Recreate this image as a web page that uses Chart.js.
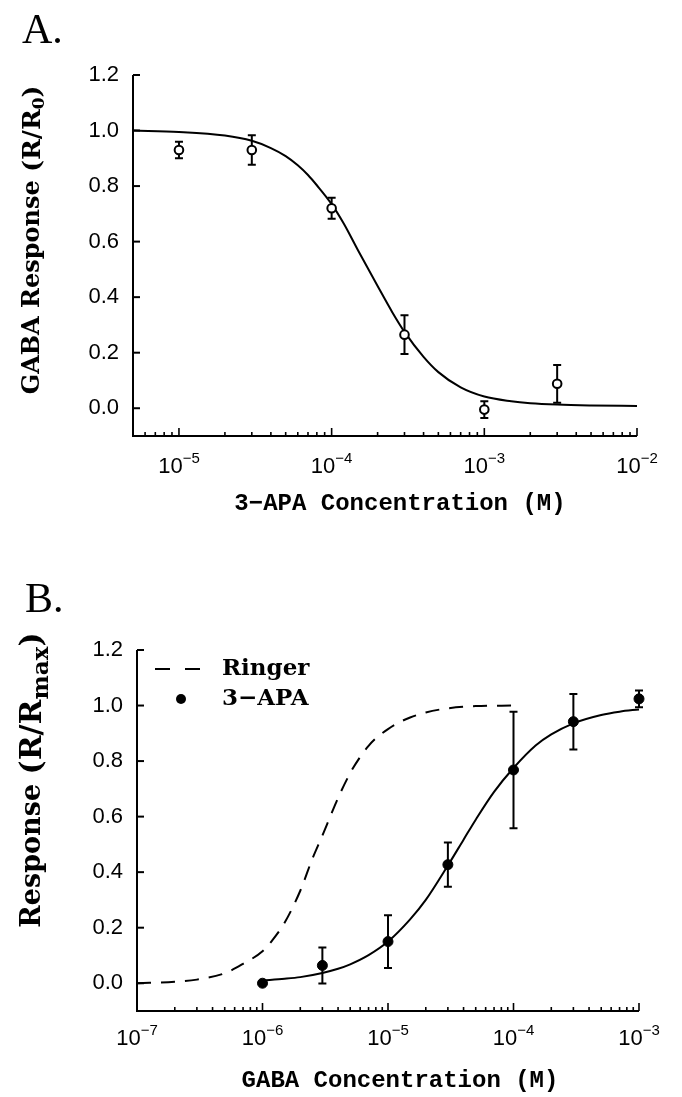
<!DOCTYPE html>
<html>
<head>
<meta charset="utf-8">
<script src="https://cdn.jsdelivr.net/npm/chart.js@4"></script>
<style>
  body { margin: 0; background: #fff; }
  #wrap { position: relative; width: 682px; height: 1097px; }
  canvas { position: absolute; left: 0; }
</style>
</head>
<body>
<div id="wrap">
  <canvas id="panel-a" width="682" height="540" style="top:0"></canvas>
  <canvas id="panel-b" width="682" height="557" style="top:540px"></canvas>
</div>
<script>
// Panel A - 3-APA inhibition of the GABA response
const aConc = [1e-5, 3e-5, 1e-4, 3e-4, 1e-3, 3e-3];
const aResp = [0.93, 0.93, 0.72, 0.265, -0.005, 0.088];
const aErr = [0.03, 0.053, 0.038, 0.07, 0.03, 0.068];
const aFitConc = [5e-6, 1e-5, 2e-5, 3e-5, 4e-5, 5e-5, 6e-5, 7e-5, 8e-5, 1e-4, 1.2e-4, 1.5e-4, 2e-4, 2.5e-4, 3e-4, 4e-4, 5e-4, 7e-4, 1e-3, 1.5e-3, 2e-3, 3e-3, 5e-3, 1e-2];
const aFitResp = [1.0, 0.995, 0.982, 0.963, 0.937, 0.908, 0.875, 0.84, 0.803, 0.735, 0.665, 0.565, 0.44, 0.345, 0.275, 0.185, 0.13, 0.075, 0.042, 0.025, 0.018, 0.013, 0.01, 0.008];
const aTickExps = [-5, -4, -3, -2];

// Panel B - GABA dose response, Ringer vs 3-APA
const bConc = [1e-6, 3e-6, 1e-5, 3e-5, 1e-4, 3e-4, 1e-3];
const bResp = [0.0, 0.064, 0.15, 0.427, 0.768, 0.942, 1.024];
const bErr = [0, 0.065, 0.095, 0.08, 0.21, 0.10, 0.03];
const ringerConc = [1e-7, 2e-7, 3e-7, 5e-7, 7e-7, 1e-6, 1.2e-6, 1.5e-6, 2e-6, 2.5e-6, 3e-6, 3.5e-6, 4e-6, 5e-6, 6e-6, 7e-6, 8e-6, 1e-5, 1.2e-5, 1.5e-5, 2e-5, 3e-5, 5e-5, 1e-4];
const ringerResp = [0.0, 0.005, 0.013, 0.036, 0.07, 0.115, 0.155, 0.218, 0.333, 0.449, 0.532, 0.605, 0.667, 0.757, 0.815, 0.855, 0.882, 0.915, 0.937, 0.957, 0.975, 0.99, 0.998, 1.0];
const apaFitConc = [1e-6, 1.5e-6, 2e-6, 3e-6, 4e-6, 5e-6, 7e-6, 1e-5, 1.5e-5, 2e-5, 3e-5, 4e-5, 5e-5, 7e-5, 1e-4, 1.5e-4, 2e-4, 3e-4, 5e-4, 7e-4, 1e-3];
const apaFitResp = [0.01, 0.016, 0.022, 0.037, 0.052, 0.068, 0.101, 0.15, 0.23, 0.30, 0.424, 0.517, 0.589, 0.689, 0.775, 0.856, 0.896, 0.936, 0.966, 0.978, 0.986];
const bTickExps = [-7, -6, -5, -4, -3];

const yTicks = [0, 0.2, 0.4, 0.6, 0.8, 1.0, 1.2];

const XTITLE_FONT = "bold 24px 'Liberation Mono'";
const TICK_FONT = "22px 'Liberation Sans'";
const TICK_SUP = "15px 'Liberation Sans'";
const serif = (w, s) => w + " " + s + "px 'DejaVu Serif'";

function toPoints(xs, ys) {
  return xs.map((x, i) => ({ x: x, y: ys[i] }));
}

// draw a run of text pieces, each with its own font and vertical offset
function drawParts(ctx, parts, x, y, align) {
  let total = 0;
  parts.forEach(p => { ctx.font = p.font; total += ctx.measureText(p.text).width; });
  let cx = align === "center" ? x - total / 2 : x;
  ctx.textAlign = "left";
  ctx.textBaseline = "middle";
  parts.forEach(p => {
    ctx.font = p.font;
    ctx.fillText(p.text, cx, y + (p.dy || 0));
    cx += ctx.measureText(p.text).width;
  });
}

function decorPlugin(cfg) {
  return {
    id: "decor",
    beforeDatasetsDraw(chart) {
      const ctx = chart.ctx;
      const xs = chart.scales.x, ys = chart.scales.y;
      ctx.save();
      ctx.strokeStyle = "#000";
      ctx.lineWidth = 2;
      cfg.conc.forEach((c, i) => {
        if (!cfg.err[i]) return;
        const px = xs.getPixelForValue(c);
        const top = ys.getPixelForValue(cfg.resp[i] + cfg.err[i]);
        const bot = ys.getPixelForValue(cfg.resp[i] - cfg.err[i]);
        ctx.beginPath();
        ctx.moveTo(px, top); ctx.lineTo(px, bot);
        ctx.moveTo(px - 4, top); ctx.lineTo(px + 4, top);
        ctx.moveTo(px - 4, bot); ctx.lineTo(px + 4, bot);
        ctx.stroke();
      });
      ctx.restore();
    },
    afterDraw(chart) {
      const ctx = chart.ctx;
      const area = chart.chartArea;
      const xs = chart.scales.x, ys = chart.scales.y;
      ctx.save();
      ctx.fillStyle = "#000";
      ctx.strokeStyle = "#000";
      ctx.lineWidth = 2;

      // axis lines
      ctx.beginPath();
      ctx.moveTo(area.left, area.top);
      ctx.lineTo(area.left, area.bottom);
      ctx.lineTo(area.right, area.bottom);
      ctx.stroke();

      // y ticks (inward) and labels
      ctx.font = TICK_FONT;
      ctx.textAlign = "right";
      ctx.textBaseline = "middle";
      yTicks.forEach(v => {
        const py = ys.getPixelForValue(v);
        ctx.beginPath();
        ctx.moveTo(area.left, py); ctx.lineTo(area.left + 7, py);
        ctx.stroke();
        ctx.fillText(v.toFixed(1), area.left - 14, py);
      });

      // x ticks: decades long, 2..9 short, all pointing up
      const lo = Math.floor(Math.log10(xs.min)), hi = Math.ceil(Math.log10(xs.max));
      ctx.lineWidth = 1.6;
      for (let d = lo; d <= hi; d++) {
        for (let m = 1; m <= 9; m++) {
          const v = m * Math.pow(10, d);
          if (v < xs.min * 0.999 || v > xs.max * 1.001) continue;
          const px = xs.getPixelForValue(v);
          ctx.beginPath();
          ctx.moveTo(px, area.bottom);
          ctx.lineTo(px, area.bottom - (m === 1 ? 8 : 4));
          ctx.stroke();
        }
      }
      cfg.tickExps.forEach(e => {
        const px = xs.getPixelForValue(Math.pow(10, e));
        drawParts(ctx, [
          { text: "10", font: TICK_FONT },
          { text: "\u2212" + Math.abs(e), font: TICK_SUP, dy: -8 }
        ], px, area.bottom + cfg.tickGap, "center");
      });

      // x title
      drawParts(ctx, [{ text: cfg.xTitle, font: XTITLE_FONT }], cfg.xTitleX, area.bottom + cfg.titleGap, "center");

      // y title, rotated
      ctx.save();
      ctx.translate(cfg.yTitleX, cfg.yTitleY);
      ctx.rotate(-Math.PI / 2);
      drawParts(ctx, cfg.yTitle, 0, 0, "center");
      ctx.restore();

      // panel letter
      ctx.font = "42px 'Liberation Serif'";
      ctx.textAlign = "left";
      ctx.textBaseline = "alphabetic";
      ctx.fillText(cfg.letter, cfg.letterX, cfg.letterY);

      if (cfg.legend) {
        const lg = cfg.legend;
        ctx.lineWidth = 2;
        ctx.setLineDash([15, 15]);
        ctx.beginPath();
        ctx.moveTo(lg.x, lg.y1); ctx.lineTo(lg.x + 45, lg.y1);
        ctx.stroke();
        ctx.setLineDash([]);
        ctx.beginPath();
        ctx.arc(lg.x + 26, lg.y2, 5, 0, Math.PI * 2);
        ctx.fill();
        ctx.font = serif("bold", 23);
        ctx.textBaseline = "middle";
        ctx.fillText(lg.labels[0], lg.x + 67, lg.y1);
        ctx.fillText(lg.labels[1], lg.x + 67, lg.y2);
      }
      ctx.restore();
    }
  };
}

function makePanel(id, xMin, xMax, padding, datasets, cfg) {
  return new Chart(document.getElementById(id), {
    type: "scatter",
    data: { datasets: datasets },
    options: {
      responsive: false,
      animation: false,
      events: [],
      layout: { padding: padding },
      plugins: { legend: { display: false }, tooltip: { enabled: false } },
      scales: {
        x: { type: "logarithmic", min: xMin, max: xMax, display: false },
        y: { type: "linear", min: -0.1, max: 1.2, display: false }
      }
    },
    plugins: [decorPlugin(cfg)]
  });
}

function curve(points, dash) {
  return {
    data: points,
    showLine: true,
    borderColor: "#000",
    borderWidth: 2,
    borderDash: dash || [],
    pointRadius: 0,
    cubicInterpolationMode: "monotone",
    clip: false,
    order: 2
  };
}

makePanel("panel-a", 5e-6, 1e-2, { left: 133, right: 45, top: 75, bottom: 104 }, [
  {
    data: toPoints(aConc, aResp),
    pointRadius: 4.3,
    borderWidth: 2,
    borderColor: "#000",
    backgroundColor: "#fff",
    clip: false,
    order: 1
  },
  curve(toPoints(aFitConc, aFitResp))
], {
  conc: aConc, resp: aResp, err: aErr,
  tickExps: aTickExps, tickGap: 31, titleGap: 68, xTitleX: 400,
  xTitle: "3\u2212APA Concentration (M)",
  yTitle: [
    { text: "GABA Response ", font: serif("bold", 24) },
    { text: "(R/R", font: serif("bold", 25) },
    { text: "0", font: serif("bold", 17), dy: 7 },
    { text: ")", font: serif("bold", 25) }
  ],
  yTitleX: 33, yTitleY: 240,
  letter: "A.", letterX: 22, letterY: 43
});

makePanel("panel-b", 1e-7, 1e-3, { left: 137, right: 43, top: 110, bottom: 86 }, [
  {
    data: toPoints(bConc, bResp),
    pointRadius: 5,
    borderWidth: 1,
    borderColor: "#000",
    backgroundColor: "#000",
    clip: false,
    order: 1
  },
  curve(toPoints(apaFitConc, apaFitResp)),
  curve(toPoints(ringerConc, ringerResp), [14, 10])
], {
  conc: bConc, resp: bResp, err: bErr,
  tickExps: bTickExps, tickGap: 28, titleGap: 70, xTitleX: 400,
  xTitle: "GABA Concentration (M)",
  yTitle: [
    { text: "Response ", font: serif("bold", 27) },
    { text: "(R/R", font: serif("bold", 30) },
    { text: "max", font: serif("bold", 23), dy: 9 },
    { text: ")", font: serif("bold", 30) }
  ],
  yTitleX: 33, yTitleY: 240,
  letter: "B.", letterX: 25, letterY: 72,
  legend: { x: 155, y1: 129, y2: 159, labels: ["Ringer", "3\u2212APA"] }
});
</script>
</body>
</html>
